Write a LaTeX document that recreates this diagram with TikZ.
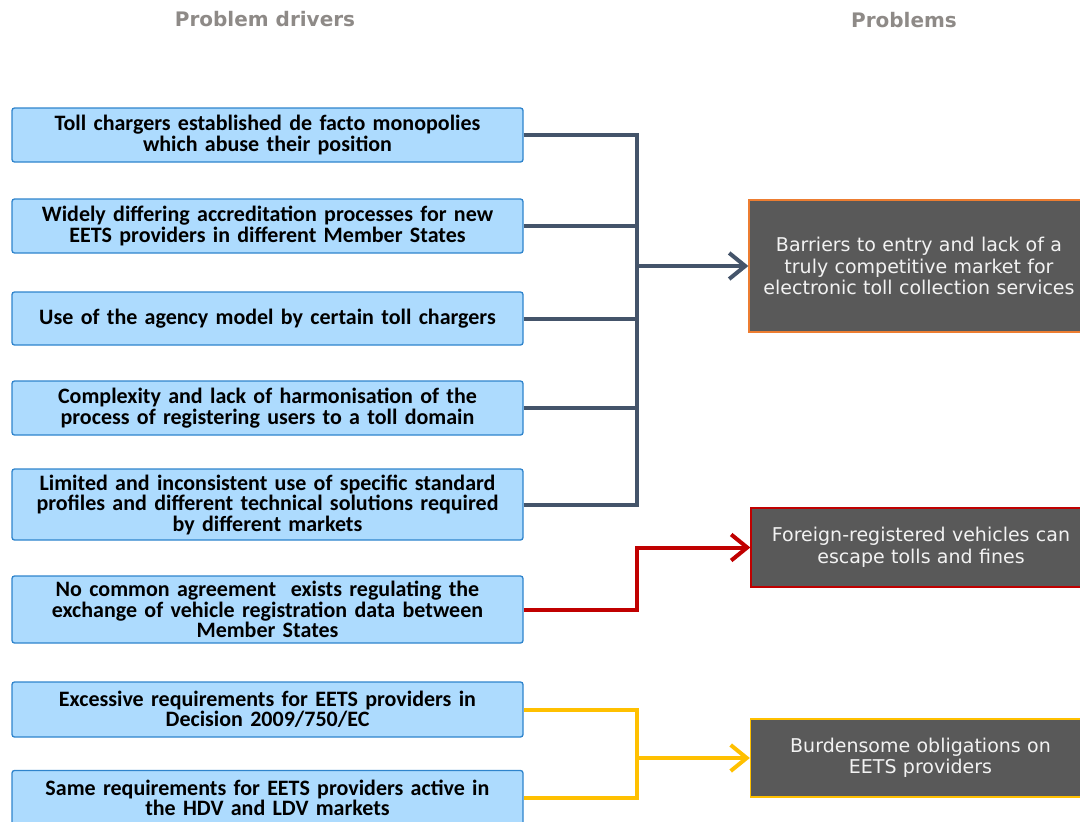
\documentclass[tikz,border=0pt]{standalone}
\usepackage{fontspec}
\setmainfont{Carlito}
\newfontfamily\rfont{DejaVu Sans}
\usetikzlibrary{arrows.meta}
\definecolor{bluefill}{HTML}{ADDBFE}
\definecolor{bluebd}{HTML}{2F84CC}
\definecolor{darkline}{HTML}{44546A}
\definecolor{redline}{HTML}{C00000}
\definecolor{yelline}{HTML}{FFC000}
\definecolor{boxgray}{HTML}{595959}
\definecolor{orangebd}{HTML}{ED7D31}
\definecolor{titlegray}{HTML}{8E8A87}
\definecolor{ptext}{HTML}{F2F2F2}
\begin{document}
\begin{tikzpicture}[x=1pt,y=-1pt,
  driver/.style={draw=bluebd, fill=bluefill, rounded corners=2.5pt, line width=1.3pt,
    minimum width=511pt, text width=505pt, align=center, inner sep=0pt,
    font=\fontsize{22}{20.5}\selectfont\bfseries, text=black},
  problem/.style={fill=boxgray, line width=1.3pt, minimum width=340pt, text width=335pt,
    align=center, inner sep=0pt, font=\rfont\fontsize{19}{21.5}\selectfont, text=ptext},
  heading/.style={font=\rfont\bfseries\fontsize{20}{22}\selectfont, text=titlegray},
  conn/.style={line width=4pt},
  tip/.style={-{Straight Barb[length=16pt,width=26pt,line width=4pt]}}
]
\useasboundingbox (0,0) rectangle (1080,822);
\clip (0,0) rectangle (1080,822);

\node[heading] (h1) at (265,19) {Problem drivers};
\node[heading] (h2) at (904,20) {Problems};

\node[driver, minimum height=54pt] (b1) at (267.5,135) {Toll chargers established de facto monopolies\\ which abuse their position};
\node[driver, minimum height=54pt] (b2) at (267.5,226) {Widely differing accreditation processes for new\\ EETS providers in different Member States};
\node[driver, minimum height=53pt] (b3) at (267.5,318.5) {Use of the agency model by certain toll chargers};
\node[driver, minimum height=54pt] (b4) at (267.5,408) {Complexity and lack of harmonisation of the\\ process of registering users to a toll domain};
\node[driver, minimum height=71pt] (b5) at (267.5,504.5) {Limited and inconsistent use of specific standard\\ profiles and different technical solutions required\\ by different markets};
\node[driver, minimum height=67pt] (b6) at (267.5,609.5) {No common agreement\ \ exists regulating the\\ exchange of vehicle registration data between\\ Member States};
\node[driver, minimum height=55pt] (b7) at (267.5,709.5) {Excessive requirements for EETS providers in\\ Decision 2009/750/EC};
\node[driver, minimum height=55pt] (b8) at (267.5,798) {Same requirements for EETS providers active in\\ the HDV and LDV markets};

\node[problem, draw=orangebd, minimum height=132pt] (r1) at (919,266) {Barriers to entry and lack of a\\ truly competitive market for\\ electronic toll collection services};
\node[problem, draw=redline, minimum height=79pt] (r2) at (921,547.5) {Foreign-registered vehicles can\\ escape tolls and fines};
\node[problem, draw=yelline, minimum height=78pt] (r3) at (920.5,758) {Burdensome obligations on\\ EETS providers};

\coordinate (jx) at (637,0);

% dark connectors
\draw[conn, darkline] (b1.east) -- (b1.east -| jx);
\draw[conn, darkline] (b2.east) -- (b2.east -| jx);
\draw[conn, darkline] (b3.east) -- (b3.east -| jx);
\draw[conn, darkline] (b4.east) -- (b4.east -| jx);
\draw[conn, darkline] (b5.east) -- (b5.east -| jx);
\draw[conn, darkline, line cap=rect] (b1.east -| jx) -- (b5.east -| jx);
\draw[conn, darkline, tip] (r1.west -| jx) -- (r1.west);

% red connector
\draw[conn, redline, tip] (b6.east) -| (r2.west -| jx) -- (r2.west);

% yellow connectors
\draw[conn, yelline] (b7.east) -| (b8.east -| jx) -- (b8.east);
\draw[conn, yelline, tip] (r3.west -| jx) -- (r3.west);
\end{tikzpicture}
\end{document}
